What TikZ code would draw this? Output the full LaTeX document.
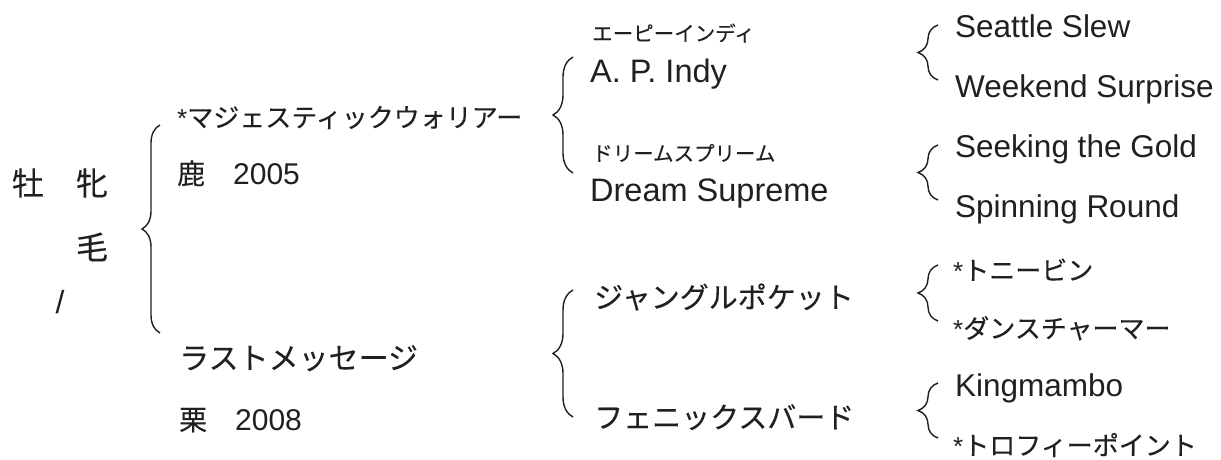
\documentclass[tikz,border=0pt]{standalone}
\usepackage{fontspec}
\setmainfont{Liberation Sans}
\newfontfamily\jpfont[FakeBold=0.2]{Noto Sans CJK JP}
\usetikzlibrary{positioning,decorations.pathreplacing}
\definecolor{inkclr}{RGB}{35,31,32}
\tikzset{ %
  ,every node/.style={inner sep=0, text=inkclr}
  ,lat/.style={font=\fontsize{#1}{36}\selectfont, anchor=base west}
  ,lat/.default=31.5
  ,jp/.style={font=\jpfont\fontsize{#1}{36}\selectfont, anchor=base west}
  ,jp/.default=26
  ,ruby/.style={font=\jpfont\fontsize{20.5}{24}\selectfont, anchor=base west}
  ,big/.style={font=\jpfont\fontsize{32}{36}\selectfont}
  ,brc/.style={draw=inkclr, line width=1.4pt, decorate, decoration={brace, amplitude=#1}}
  ,brc/.default=20pt
}
\begin{document}
\begin{tikzpicture}[x=1pt, y=-1pt]
      \useasboundingbox (0,0) rectangle (1221,460);
      % horse itself
      \draw
      node[big] (sexA) at (28,183) {牡}
      node[big] (colA) at (92,183) {牝}
      node[big] (colB) at (92,247) {毛}
      node[font=\fontsize{32}{36}\selectfont] (slash) at (60,302) {/};
      % parents
      \draw
      node[jp] (sire) at (177,127) {{\rmfamily*}マジェスティックウォリアー}
      node[jp=28, below=57pt of sire.base west, anchor=base west] (sireinfo) {鹿　{\rmfamily\fontsize{30}{36}\selectfont 2005}}
      node[jp=30] (dam) at (179,369) {ラストメッセージ}
      node[jp=28, below=61pt of dam.base west, anchor=base west] (daminfo) {栗　{\rmfamily\fontsize{30}{36}\selectfont 2008}};
      % grandparents
      \draw
      node[lat=32.5] (ss) at (590,82) {A. P. Indy}
      node[ruby, above=41pt of ss.base west, anchor=base west, xshift=2pt] (sskana) {エーピーインディ}
      node[lat=32.5] (sd) at (590,201) {Dream Supreme}
      node[ruby, above=40pt of sd.base west, anchor=base west, xshift=2pt] (sdkana) {ドリームスプリーム}
      node[jp=29] (ds) at (594,308) {ジャングルポケット}
      node[jp=29] (dd) at (594,428) {フェニックスバード};
      % great-grandparents
      \draw
      node[lat] (sss) at (955,38) {Seattle Slew}
      node[lat, below=59pt of sss.base west, anchor=base west] (ssd) {Weekend Surprise}
      node[lat] (sds) at (955,157) {Seeking the Gold}
      node[lat, below=60pt of sds.base west, anchor=base west] (sdd) {Spinning Round}
      node[jp] (dss) at (953,280) {{\rmfamily*}トニービン}
      node[jp, below=58pt of dss.base west, anchor=base west] (dsd) {{\rmfamily*}ダンスチャーマー}
      node[lat] (dds) at (955,396) {Kingmambo}
      node[jp, below=59pt of dds.base west, anchor=base west, xshift=-2pt] (ddd) {{\rmfamily*}トロフィーポイント};
      % braces
      \coordinate (bigS) at (160,333); \coordinate (bigN) at (160,125);
      \coordinate (sS) at (573,173); \coordinate (sN) at (573,57);
      \coordinate (dS) at (573,417); \coordinate (dN) at (573,290);
      \coordinate (ssS) at (938,80); \coordinate (ssN) at (938,25);
      \coordinate (sdS) at (938,200); \coordinate (sdN) at (938,145);
      \coordinate (dsS) at (938,321); \coordinate (dsN) at (938,265);
      \coordinate (ddS) at (938,438); \coordinate (ddN) at (938,383);
      \draw[brc=18pt] (bigS) -- (bigN);
      \draw[brc] (sS) -- (sN);
      \draw[brc] (dS) -- (dN);
      \draw[brc] (ssS) -- (ssN);
      \draw[brc] (sdS) -- (sdN);
      \draw[brc] (dsS) -- (dsN);
      \draw[brc] (ddS) -- (ddN);
    \end{tikzpicture}
\end{document}
